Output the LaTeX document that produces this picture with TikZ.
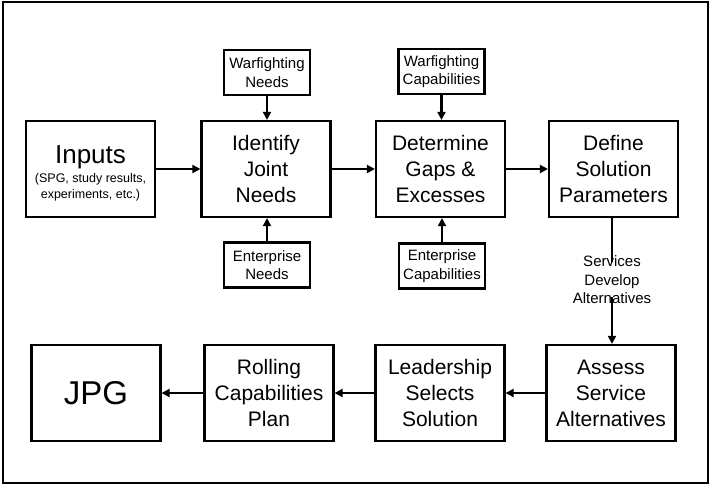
\documentclass[tikz,border=0pt]{standalone}
\usepackage{fontspec}
\setmainfont{Liberation Sans}
\usetikzlibrary{arrows.meta}
\begin{document}
\begin{tikzpicture}[x=1pt,y=-1pt,
  bigbox/.style={draw, line width=2.2pt, minimum width=129pt, minimum height=96pt, align=center, inner sep=2pt,
    font=\fontsize{21}{26}\selectfont},
  smallbox/.style={draw, line width=2.2pt, minimum width=86pt, minimum height=45pt, align=center, inner sep=1pt,
    font=\fontsize{15}{18.5}\selectfont},
  flow/.style={line width=2.6pt, -{Triangle[length=8pt,width=8pt]}},
  plain/.style={line width=2.6pt}]
\useasboundingbox (0,0) rectangle (710,485);
\draw[line width=2pt] (3,2) rectangle (708,483);
% top row
\node[bigbox] (inputs) at (90.5,169) {};
\node[align=center, inner sep=0pt, font=\fontsize{12.5}{16}\selectfont] (inputstext) at (90.5,173) {{\fontsize{26}{26}\selectfont Inputs}\\[3pt]
  (SPG, study results,\\experiments, etc.)};
\node[bigbox] (identify) at (266,169) {Identify\\Joint\\Needs};
\node[bigbox] (determine) at (440.5,169) {Determine\\Gaps \&\\Excesses};
\node[bigbox] (define) at (613.5,169) {Define\\Solution\\Parameters};
% small boxes
\node[smallbox] (wn) at (267,72.5) {Warfighting\\Needs};
\node[smallbox] (en) at (267,265) {Enterprise\\Needs};
\node[smallbox] (wc) at (441.5,71.5) {Warfighting\\Capabilities};
\node[smallbox] (ec) at (442,266) {Enterprise\\Capabilities};
% bottom row
\node[bigbox] (assess) at (611,393) {Assess\\Service\\Alternatives};
\node[bigbox] (leader) at (440,393) {Leadership\\Selects\\Solution};
\node[bigbox] (rolling) at (269,393) {Rolling\\Capabilities\\Plan};
\node[bigbox, font=\fontsize{33}{36}\selectfont] (jpg) at (96,393) {JPG};
% label
\node[align=center, inner sep=0pt, font=\fontsize{15}{18.5}\selectfont] (sda) at (612,280) {Services\\Develop\\Alternatives};
% connectors
\draw[flow] (inputs) -- (identify);
\draw[flow] (identify) -- (determine);
\draw[flow] (determine) -- (define);
\draw[flow] (wn.south) -- (wn.south |- identify.north);
\draw[flow] (en.north) -- (en.north |- identify.south);
\draw[flow] (wc.south) -- (wc.south |- determine.north);
\draw[flow] (ec.north) -- (ec.north |- determine.south);
\draw[plain] (sda.north |- define.south) -- ([yshift=-6pt]sda.north);
\draw[flow] ([yshift=7pt]sda.south) -- (sda.south |- assess.north);
\draw[flow] (assess) -- (leader);
\draw[flow] (leader) -- (rolling);
\draw[flow] (rolling) -- (jpg);
\end{tikzpicture}
\end{document}
